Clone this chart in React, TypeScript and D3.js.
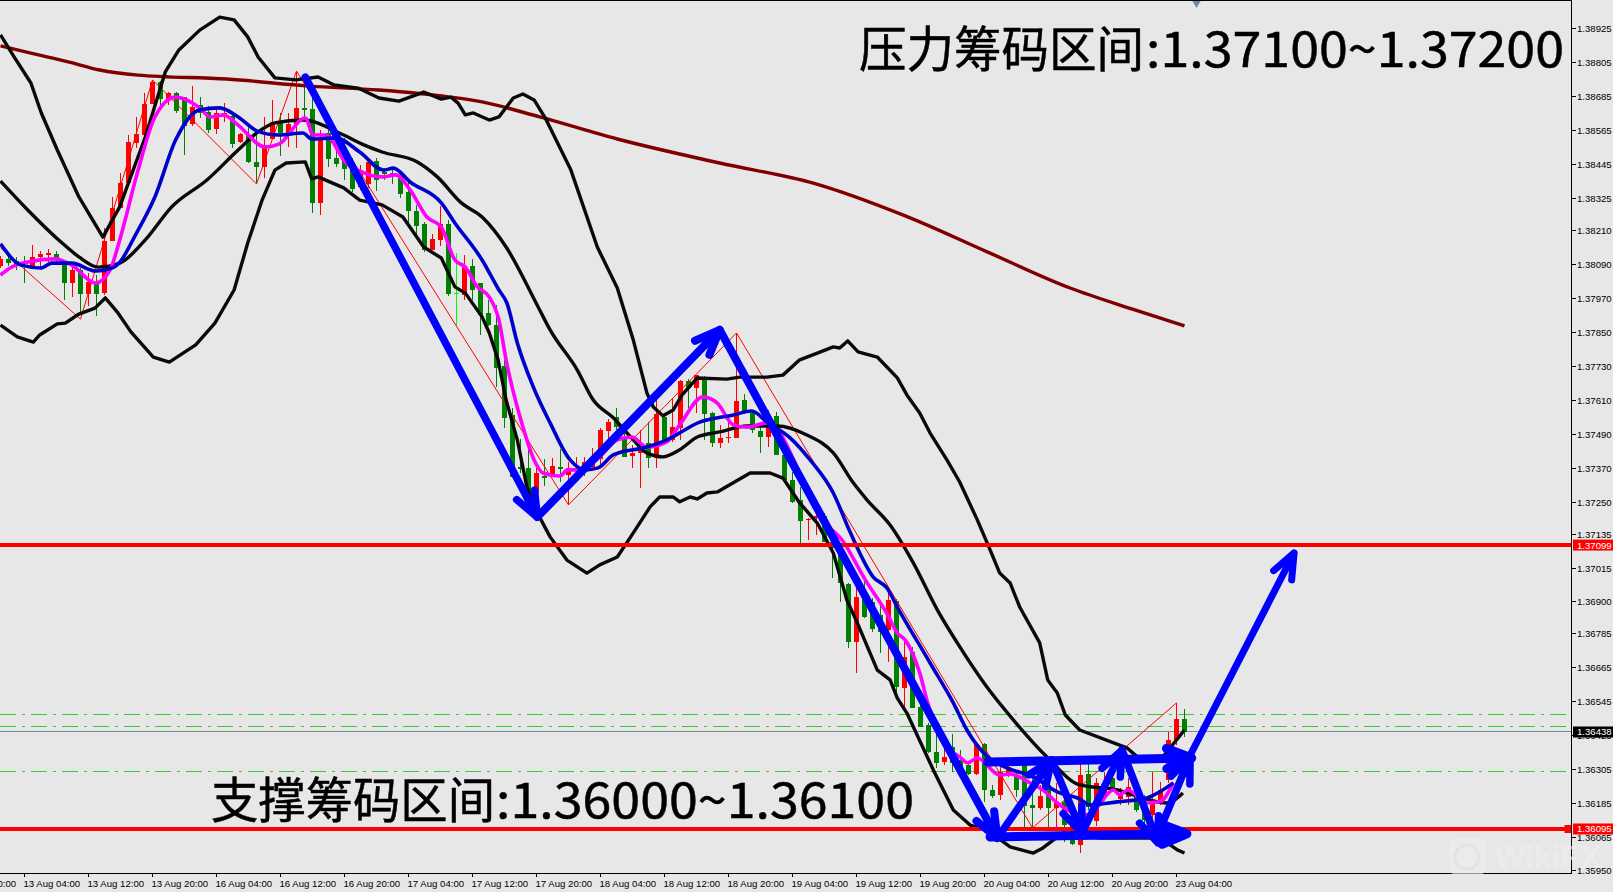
import React from "react";
import * as d3 from "d3";

// All prices are in points (1 point = 0.00001)
const opens = [138085,138110,138103,138089,138085,138118,138124,138128,138089,138025,138072,137987,138025,137991,138174,138291,138380,138521,138549,138659,138737,138673,138698,138683,138588,138655,138631,138570,138613,138617,138525,138549,138454,138436,138535,138592,138549,138588,138645,138641,138308,138556,138468,138461,138450,138365,138376,138457,138418,138415,138404,138347,138280,138233,138142,138178,138233,137991,137984,138085,138025,137920,137877,137733,137559,137375,137372,137283,137343,137351,137375,137347,137365,137365,137375,137403,137502,137552,137478,137414,137424,137460,137407,137552,137471,137513,137679,137654,137693,137566,137460,137478,137478,137612,137566,137502,137481,137555,137418,137329,137259,137188,137195,137202,137110,137082,136961,136756,136912,136898,136852,136799,136901,136594,136721,136526,136463,136367,136332,136385,136339,136322,136290,136395,136233,136216,136286,136286,136322,136180,136169,136251,136169,136191,136109,136038,136290,136123,136216,136276,136201,136209,136209,136169,136144,136191,136268,136410,136484];
const highs = [138121,138135,138118,138121,138160,138139,138146,138139,138100,138089,138079,138061,138054,138220,138330,138415,138549,138613,138698,138744,138740,138701,138701,138683,138723,138683,138652,138648,138662,138631,138556,138577,138549,138613,138673,138627,138627,138775,138737,138680,138567,138567,138503,138539,138468,138443,138461,138468,138432,138432,138425,138383,138301,138241,138198,138298,138248,138132,138125,138110,138025,137966,137948,137754,137584,137474,137442,137372,137403,137407,137439,137393,137411,137411,137442,137513,137544,137584,137506,137453,137506,137534,137612,137559,137619,137683,137686,137700,137697,137569,137523,137534,137849,137633,137569,137516,137577,137569,137424,137358,137305,137195,137206,137213,137117,137089,136965,136951,136983,136912,136905,136929,136908,136770,136738,136551,136470,136434,136385,136431,136374,136329,136399,136399,136251,136318,136328,136304,136328,136279,136251,136268,136258,136222,136116,136349,136328,136276,136297,136286,136240,136276,136276,136216,136297,136261,136438,136541,136519];
const lows = [138079,138086,138072,138025,138079,138079,138100,138089,137966,137976,137920,137945,137909,137984,138174,138291,138380,138503,138549,138659,138638,138655,138627,138479,138581,138609,138556,138553,138595,138503,138521,138450,138380,138397,138535,138475,138507,138503,138602,138273,138266,138436,138436,138390,138347,138354,138361,138351,138390,138376,138326,138226,138198,138135,138142,138157,137980,137870,137966,137966,137842,137873,137658,137513,137340,137354,137283,137283,137308,137340,137322,137241,137354,137344,137372,137382,137442,137506,137411,137372,137301,137372,137372,137464,137464,137471,137584,137566,137471,137446,137442,137460,137478,137562,137495,137424,137446,137418,137322,137248,137106,137117,137134,137110,136983,136898,136735,136646,136841,136792,136717,136686,136562,136526,136523,136456,136363,136310,136322,136297,136297,136286,136286,136191,136205,136198,136279,136209,136099,136099,136162,136102,136092,136049,136038,136010,136162,136106,136198,136226,136180,136180,136155,136109,136116,136180,136258,136392,136420];
const closes = [138110,138096,138089,138084,138118,138128,138132,138114,138025,138072,137987,138029,137987,138174,138291,138380,138525,138553,138659,138737,138676,138698,138634,138581,138648,138627,138567,138627,138627,138517,138553,138454,138436,138503,138595,138556,138588,138645,138638,138308,138532,138464,138447,138429,138358,138425,138454,138390,138411,138408,138340,138280,138226,138142,138181,138233,137987,137991,138085,138001,137913,137877,137725,137548,137340,137368,137283,137354,137337,137379,137368,137372,137372,137393,137411,137506,137534,137516,137411,137424,137446,137407,137562,137471,137516,137679,137654,137700,137562,137460,137478,137481,137608,137566,137506,137481,137552,137418,137329,137252,137184,137191,137202,137110,137089,136965,136756,136915,136845,136802,136792,136905,136597,136703,136523,136456,136367,136328,136349,136328,136304,136290,136395,136233,136212,136297,136315,136233,136176,136169,136212,136169,136191,136109,136042,136286,136173,136258,136251,136233,136216,136244,136162,136127,136187,136233,136410,136484,136438];

const upperBars = [0,1.7,3.8,5.1,7.1,9.8,12.8,14.9,18.1,20.6,22.3,24.9,27.4,29.2,30.9,32.2,34.3,36.9,39.7,41.7,44.7,47.3,49.8,52.9,55.1,56.3,57.2,58.1,59.1,61.1,62.3,64.1,65.3,66.7,68.1,71.3,74.6,77.1,79.1,80.8,81.6,82.8,84.1,85.2,87.1,90.8,92.4,95.8,97.8,99.9,102.1,104.1,104.9,105.9,107.2,109.6,112.1,113.3,114.9,116.2,118.3,119.9,122.1,123.7,124.9,126.2,127.4,129.9,130.9,132.1,133.1,134.9,140.8,142.1,145.3,148];
const upperBand = [138903,138825,138733,138627,138496,138330,138188,138295,138542,138772,138850,138920,138966,138956,138896,138825,138751,138744,138754,138726,138715,138680,138669,138701,138676,138683,138662,138620,138627,138602,138613,138680,138694,138673,138609,138425,138153,138008,137824,137637,137587,137556,137577,137630,137690,137686,137693,137693,137700,137754,137778,137800,137796,137821,137782,137764,137690,137630,137566,137495,137400,137322,137188,137082,137000,136965,136880,136753,136622,136576,136498,136445,136382,136350,136350,136445];

const middleBars = [0,3.4,7.7,9.8,12.2,14.9,18.1,21.4,25.8,29.7,32.2,34.3,37.8,42.9,45.2,47.7,52.1,54.6,57.6,60.2,63.2,67.4,68.7,72.1,74.1,76.6,79.1,80.8,82.8,84.9,87.1,89.9,93.3,97.1,100.8,104.1,106.6,108.3,111.2,114.1,117.1,119.6,123.3,126.6,130.8,134.9,139.6,142.4,145.8,147.8];
const middleBand = [138386,138284,138167,138118,138082,138096,138178,138295,138390,138496,138560,138592,138602,138549,138517,138489,138454,138401,138309,138259,138153,137930,137860,137718,137612,137549,137471,137425,137411,137436,137481,137499,137520,137520,137488,137425,137319,137259,137170,137036,136870,136753,136597,136481,136350,136251,136233,136208,136187,136222];

const lowerBars = [0,2.1,4.1,4.9,7.1,8.1,9.8,11.8,13.1,14.6,16.3,19.1,21.1,24.4,26.8,29.2,30.9,32.7,34.3,35.7,38.1,38.9,39.7,42.9,44.9,47.7,50.3,52.9,55.1,56.8,58.1,60.2,61.1,62.2,63.2,64.6,65.8,67.1,68.7,70.8,73.3,74.9,77.1,79.1,81.2,82.4,84.1,84.9,86.2,87.1,88.3,89.6,93.7,96.2,97.8,99.9,102.1,104.1,105.8,107.1,109.6,111.2,112.1,113.3,116.6,119.1,121.2,123.3,126.2,129.1,130.3,132.8,137.4,145,147.1,148];
const lowerBand = [137877,137835,137817,137842,137881,137884,137916,137937,137973,137923,137853,137764,137746,137807,137884,138001,138167,138319,138425,138450,138454,138394,138401,138362,138319,138302,138259,138153,138114,138012,137990,137906,137849,137754,137612,137471,137304,137213,137128,137046,137000,137029,137057,137142,137234,137269,137269,137252,137269,137262,137283,137287,137354,137354,137336,137248,137177,137071,136905,136824,136657,136622,136558,136505,136304,136162,136109,136092,136032,136010,136028,136081,136063,136063,136021,136010];

const longMaBars = [0,4.2,8.6,12.4,17.2,28.3,38.7,47.3,56,60.2,67.4,77.1,89.9,101.6,113.1,123.4,133.7,141.4,148];
const longMa = [138864,138836,138807,138779,138761,138747,138722,138708,138684,138666,138613,138535,138450,138379,138263,138135,138008,137934,137874];

const blueBars = [0,2.6,5.1,6.4,8.9,11.9,14.2,17.2,19.3,21.9,24.9,27.4,29.7,32.1,34.8,37.8,38.9,41.9,44.9,47.9,49.1,51.2,55.1,56.8,60.2,62.3,63.3,64.6,66.6,68.7,71.2,73.1,74.7,76.6,80.8,83.3,87.4,91.6,93.9,95.8,98.7,101.2,104.1,106.2,109.1,110.8,112.1,116.2,119.1,120.8,123.4,125.8,129.1,132.1,134.9,136.2,139.6,143.3,146.6];
const blueMa = [138164,138089,138079,138096,138096,138068,138082,138213,138330,138532,138638,138645,138613,138563,138549,138556,138535,138539,138489,138425,138432,138383,138309,138238,138107,138001,137955,137814,137658,137531,137400,137365,137372,137418,137446,137471,137534,137559,137573,137534,137478,137400,137283,137145,136986,136947,136880,136682,136541,136445,136350,136311,136279,136226,136201,136180,136191,136205,136258];

const magentaBars = [0,1.2,3.4,6.8,8.9,11.9,13.7,14.9,17.2,19.3,21.9,24.9,26.2,27.9,29.7,33.1,34.8,38.1,39.1,40.6,43.2,45.2,47.7,49.4,51.2,53.3,55.1,56.8,58.1,59.6,61.1,62.3,63.2,65.3,66.7,67.8,69.9,70.9,72.4,74.9,77.1,78.9,80.8,83.3,84.9,87.8,89.6,91.6,93.3,95.8,97.4,99.9,102.8,105.2,108.1,110.9,112.1,113.1,114.9,115.9,118.1,119.9,120.9,122.1,124.9,126.2,128.7,130.3,132.1,134.1,135.8,137.1,139.1,139.9,140.9,143.3,144.9,146.6];
const magentaMa = [138054,138079,138100,138111,138089,138026,138072,138178,138425,138613,138683,138645,138613,138620,138584,138507,138517,138609,138549,138549,138450,138418,138401,138408,138355,138259,138224,138107,138082,138012,137976,137895,137754,137517,137400,137354,137343,137365,137365,137411,137471,137481,137446,137464,137524,137623,137601,137524,137516,137531,137496,137354,137188,137117,136976,136852,136788,136763,136647,136541,136392,136350,136329,136346,136286,136290,136258,136233,136187,136152,136145,136173,136233,136216,136233,136187,136191,136258];

const zigzagBars = [0,10,19,32,37,71,92,129,147];
const zigzag = [138150,137898,138744,138376,138775,137241,137849,136099,136541];

const arrowFromBars = [38.1,67.1,89.9,124.6,131.4,135.2,140.2,144.4,123.4,123.7,148.4];
const arrowFromPrices = [138754,137198,137860,136063,136339,136081,136374,136057,136332,136067,136339];
const arrowToBars = [67.1,89.9,124.6,131.4,135.2,140.2,144.7,148.7,148.9,148.3,161.7];
const arrowToPrices = [137198,137860,136063,136339,136081,136374,136046,136350,136346,136078,137071];
const arrowWidths = [7.5,8,8,7.5,7.5,7.5,7.5,7.5,9,9,7];

const priceTicks = [138925,138805,138685,138565,138445,138325,138210,138090,137970,137850,137730,137610,137490,137370,137250,137135,137015,136900,136785,136665,136545,136425,136305,136185,136065,135950];
const timeLabels = ["12 Aug 20:00","13 Aug 04:00","13 Aug 12:00","13 Aug 20:00","16 Aug 04:00","16 Aug 12:00","16 Aug 20:00","17 Aug 04:00","17 Aug 12:00","17 Aug 20:00","18 Aug 04:00","18 Aug 12:00","18 Aug 20:00","19 Aug 04:00","19 Aug 12:00","19 Aug 20:00","20 Aug 04:00","20 Aug 12:00","20 Aug 20:00","23 Aug 04:00"];
const firstTimeBar = -5;
const timeStep = 8;

const resistance = 137099;
const support = 136095;
const lastPrice = 136438;
const dashLevels = [136501,136458,136299];
const topTitleZh = "压力筹码区间";
const topTitleNum = ":1.37100~1.37200";
const bottomTitleZh = "支撑筹码区间";
const bottomTitleNum = ":1.36000~1.36100";

const W = 1613, H = 892;
const plotRight = 1571.5, plotBottom = 873;
const BG = "#E7E7E7";
const UP = "#FF0000", DOWN = "#008000";

const x = d3.scaleLinear().domain([0, 1]).range([0.5, 8.5]);
const y = d3.scaleLinear().domain([138925, 135950]).range([28.7, 870]);
const fmt = (v: number) => (v / 100000).toFixed(5);

function path(bars: number[], vals: number[], smooth = true) {
  const g = d3.line<number>().x((_, i) => x(bars[i])).y((d) => y(d));
  if (smooth) g.curve(d3.curveMonotoneX);
  return g(vals) || "";
}

function arrowPaths(i: number) {
  const x0 = x(arrowFromBars[i]), y0 = y(arrowFromPrices[i]);
  const x1 = x(arrowToBars[i]), y1 = y(arrowToPrices[i]);
  const a = Math.atan2(y0 - y1, x0 - x1);
  const len = 27, sp = (22 * Math.PI) / 180;
  const b1 = [x1 + len * Math.cos(a - sp), y1 + len * Math.sin(a - sp)];
  const b2 = [x1 + len * Math.cos(a + sp), y1 + len * Math.sin(a + sp)];
  return `M${x0},${y0}L${x1},${y1}M${b1[0]},${b1[1]}L${x1},${y1}L${b2[0]},${b2[1]}`;
}

export default function App() {
  const sans = "'Liberation Sans', Arial, sans-serif";
  const cjk = "'Noto Sans CJK SC', sans-serif";
  const titleProps = { fontFamily: cjk, fontSize: 49, fill: "#000", stroke: "#000", strokeWidth: 0.5, lengthAdjust: "spacingAndGlyphs" };
  return (
    <svg width={W} height={H} viewBox={`0 0 ${W} ${H}`}
      style={{ position: "absolute", left: 0, top: 0, background: BG, display: "block" }}>
      <defs>
        <clipPath id="plot"><rect x={0} y={0} width={plotRight} height={plotBottom} /></clipPath>
      </defs>
      <g clipPath="url(#plot)">
        {dashLevels.map((l) => (
          <line key={l} x1={0} x2={plotRight} y1={y(l)} y2={y(l)} stroke="#32CD32" strokeWidth={1} strokeDasharray="16 6 3 6" shapeRendering="crispEdges" />
        ))}
        <line x1={0} x2={plotRight} y1={y(lastPrice)} y2={y(lastPrice)} stroke="#778899" strokeWidth={1} shapeRendering="crispEdges" />
        <g shapeRendering="crispEdges">
          {opens.map((o, i) => {
            const c = closes[i];
            const col = o === c ? "#00FF00" : c > o ? UP : DOWN;
            const top = y(Math.max(o, c));
            const bot = y(Math.min(o, c));
            return (
              <g key={i}>
                <line x1={x(i)} x2={x(i)} y1={y(highs[i])} y2={y(lows[i])} stroke={col} strokeWidth={1} />
                <rect x={x(i) - 2.5} y={top} width={5} height={Math.max(bot - top, 1)} fill={col} />
              </g>
            );
          })}
        </g>
        <path d={path(zigzagBars, zigzag, false)} fill="none" stroke="#FF0000" strokeWidth={1} />
        <path d={path(longMaBars, longMa)} fill="none" stroke="#800000" strokeWidth={3.4} />
        <path d={path(upperBars, upperBand, false)} fill="none" stroke="#0A0A0A" strokeWidth={3.4} strokeLinejoin="round" />
        <path d={path(middleBars, middleBand)} fill="none" stroke="#0A0A0A" strokeWidth={3.4} />
        <path d={path(lowerBars, lowerBand, false)} fill="none" stroke="#0A0A0A" strokeWidth={3.4} strokeLinejoin="round" />
        <path d={path(magentaBars, magentaMa)} fill="none" stroke="#FF00FF" strokeWidth={3.6} />
        <path d={path(blueBars, blueMa)} fill="none" stroke="#0000CD" strokeWidth={3.6} />
        <line x1={0} x2={plotRight} y1={y(resistance)} y2={y(resistance)} stroke="#FF0000" strokeWidth={4} />
        <line x1={0} x2={plotRight} y1={y(support)} y2={y(support)} stroke="#FF0000" strokeWidth={4} />
        <rect x={plotRight - 7} y={y(support) - 4} width={7} height={8} fill="#FF0000" />
        {arrowFromBars.map((_, i) => (
          <path key={i} d={arrowPaths(i)} fill="none" stroke="#0000FF" strokeWidth={arrowWidths[i]} strokeLinecap="round" strokeLinejoin="round" />
        ))}
        <path d={d3.symbol().type(d3.symbolTriangle).size(34)() || ""} transform={`translate(${x(149.5)},3) rotate(180)`} fill="#778899" />
      </g>

      <text x={859} y={67} textLength={285} {...titleProps}>{topTitleZh}</text>
      <text x={1146} y={67} textLength={418} {...titleProps}>{topTitleNum}</text>
      <text x={211} y={818} textLength={284} {...titleProps}>{bottomTitleZh}</text>
      <text x={496} y={818} textLength={418} {...titleProps}>{bottomTitleNum}</text>

      {/* frame */}
      <line x1={0} x2={plotRight} y1={0.5} y2={0.5} stroke="#000" strokeWidth={1} shapeRendering="crispEdges" />
      <line x1={plotRight} x2={plotRight} y1={0} y2={plotBottom} stroke="#000" strokeWidth={1} shapeRendering="crispEdges" />
      <line x1={0} x2={plotRight} y1={plotBottom} y2={plotBottom} stroke="#000" strokeWidth={1} shapeRendering="crispEdges" />

      {/* price axis */}
      {priceTicks.map((t) => (
        <g key={t}>
          <line x1={plotRight} x2={plotRight + 4} y1={y(t)} y2={y(t)} stroke="#000" shapeRendering="crispEdges" />
          <text x={1577} y={y(t) + 3.5} fontFamily={sans} fontSize={9.6} fill="#000">{fmt(t)}</text>
        </g>
      ))}
      {[{ v: resistance, f: "#FF0000", t: "#fff" }, { v: lastPrice, f: "#000", t: "#fff" }, { v: support, f: "#FF0000", t: "#fff" }].map((b) => (
        <g key={b.v}>
          <rect x={1573} y={y(b.v) - 5.5} width={40} height={11} fill={b.f} />
          <text x={1577} y={y(b.v) + 3.5} fontFamily={sans} fontSize={9.6} fill={b.t}>{fmt(b.v)}</text>
        </g>
      ))}

      {/* time axis */}
      {timeLabels.map((l, i) => {
        const tx = x(firstTimeBar + i * timeStep);
        return (
          <g key={l}>
            <line x1={tx} x2={tx} y1={plotBottom} y2={plotBottom + 4} stroke="#000" shapeRendering="crispEdges" />
            <text x={tx - 1} y={886.5} fontFamily={sans} fontSize={9.6} fill="#000">{l}</text>
          </g>
        );
      })}

      {/* watermark */}
      <g opacity={0.6}>
        <rect x={1449} y={838} width={37} height={37} rx={7} fill="#EFEFEF" />
        <circle cx={1467} cy={857} r={12} fill="none" stroke="#E2E2E2" strokeWidth={3} />
        <text x={1495} y={868} fontFamily={sans} fontWeight={700} fontSize={32} fill="#EFEFEF">WikiFX</text>
      </g>
    </svg>
  );
}
